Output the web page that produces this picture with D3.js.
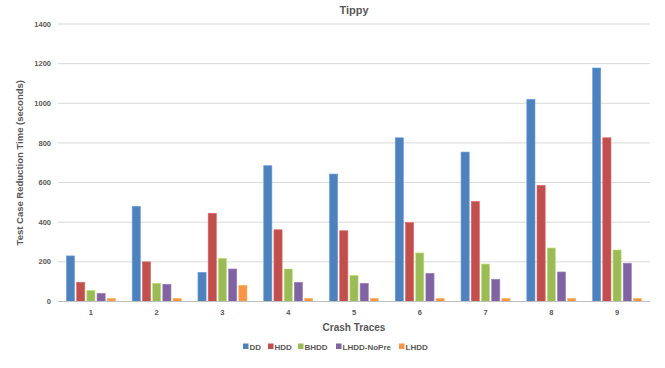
<!DOCTYPE html>
<html>
<head>
<meta charset="utf-8">
<script src="https://cdn.jsdelivr.net/npm/d3@7"></script>
<style>
  body { margin: 0; background: #fff; }
  text { font-family: "Liberation Sans", Arial, sans-serif; font-weight: bold; fill: #595959; }
</style>
</head>
<body>
<svg id="chart" width="665" height="368"></svg>
<script>
// Crash traces on the x axis
const categories = ["1", "2", "3", "4", "5", "6", "7", "8", "9"];
const seriesNames = ["DD", "HDD", "BHDD", "LHDD-NoPre", "LHDD"];
// Reduction time (seconds) per series, one value per crash trace
const ddValues = [230, 480, 147, 685, 643, 826, 754, 1020, 1178];
const hddValues = [97, 200, 445, 362, 357, 398, 505, 586, 826];
const bhddValues = [56, 92, 218, 164, 132, 245, 189, 270, 260];
const noPreValues = [41, 87, 164, 97, 92, 142, 112, 149, 193];
const lhddValues = [16, 16, 82, 16, 16, 16, 16, 16, 16];
const yTicks = [0, 200, 400, 600, 800, 1000, 1200, 1400];
const colors = ["#4F81BD", "#C0504D", "#9BBB59", "#8064A2", "#F79646"];

const values = [ddValues, hddValues, bhddValues, noPreValues, lhddValues];
const svg = d3.select("#chart");
const margin = { left: 58, right: 15, top: 24, bottom: 66.5 };
const W = 665, H = 368;

const x = d3.scaleBand().domain(categories).range([margin.left, W - margin.right]).paddingInner(0.255).paddingOuter(0.128);
const xs = d3.scaleBand().domain(seriesNames).range([0, x.bandwidth()]).paddingInner(0.2);
const y = d3.scaleLinear().domain([0, 1400]).range([H - margin.bottom, margin.top]);

// gridlines
svg.append("g").selectAll("line").data(yTicks.slice(1)).join("line")
  .attr("x1", margin.left).attr("x2", W - margin.right)
  .attr("y1", d => y(d)).attr("y2", d => y(d))
  .attr("stroke", "#d9d9d9").attr("stroke-width", 1);

// y tick labels
svg.append("g").selectAll("text").data(yTicks).join("text")
  .attr("x", 51).attr("y", d => y(d)).attr("dy", "0.35em")
  .attr("text-anchor", "end").attr("font-size", 7.5).text(d => d);

// bars
seriesNames.forEach((s, i) => {
  const c = d3.color(colors[i]);
  svg.append("g").selectAll("rect").data(values[i]).join("rect")
    .attr("x", (d, j) => x(categories[j]) + xs(s))
    .attr("y", d => y(d))
    .attr("width", xs.bandwidth())
    .attr("height", d => y(0) - y(d))
    .attr("fill", colors[i])
    .attr("stroke", c.brighter(0.6)).attr("stroke-width", 0.6);
});

// baseline
svg.append("line").attr("x1", margin.left).attr("x2", W - margin.right)
  .attr("y1", y(0)).attr("y2", y(0)).attr("stroke", "#bfbfbf").attr("stroke-width", 1);

// x tick labels
svg.append("g").selectAll("text").data(categories).join("text")
  .attr("x", d => x(d) + x.bandwidth() / 2).attr("y", 315)
  .attr("text-anchor", "middle").attr("font-size", 7.5).text(d => d);

// titles
svg.append("text").attr("x", (margin.left + W - margin.right) / 2).attr("y", 14)
  .attr("text-anchor", "middle").attr("font-size", 11).text("Tippy");
svg.append("text").attr("x", (margin.left + W - margin.right) / 2).attr("y", 331)
  .attr("text-anchor", "middle").attr("font-size", 10).text("Crash Traces");
svg.append("text").attr("transform", `translate(23,${(y(0) + y(1400)) / 2}) rotate(-90)`)
  .attr("text-anchor", "middle").attr("font-size", 9.5).text("Test Case Reduction Time (seconds)");

// legend
const legend = svg.append("g");
const legendX = [243, 268, 298, 336, 399];
seriesNames.forEach((s, i) => {
  legend.append("rect").attr("x", legendX[i]).attr("y", 343.5).attr("width", 5.5).attr("height", 5.5).attr("fill", colors[i]);
  legend.append("text").attr("x", legendX[i] + 6.5).attr("y", 349.5).attr("font-size", 8).text(s);
});
</script>
</body>
</html>
